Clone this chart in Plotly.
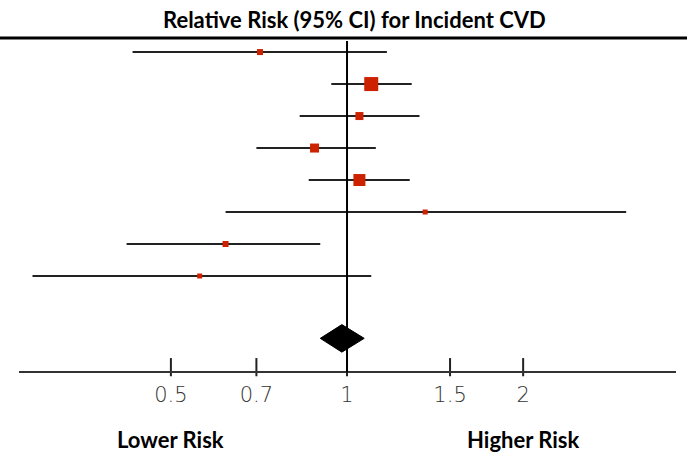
import plotly.graph_objects as go
import math

# Study-level relative risks with 95% confidence limits (top to bottom)
study_rr = [0.71, 1.10, 1.05, 0.88, 1.05, 1.36, 0.62, 0.56]
study_lo = [0.43, 0.94, 0.83, 0.70, 0.86, 0.62, 0.42, 0.29]
study_hi = [1.17, 1.29, 1.33, 1.12, 1.28, 3.00, 0.90, 1.10]

# Pooled estimate
pooled_rr = 0.98
pooled_lo = 0.90
pooled_hi = 1.07

tick_vals = [0.5, 0.7, 1, 1.5, 2]
tick_text = ["0.5", "0.7", "1", "1.5", "2"]

title_text = "Relative Risk (95% CI) for Incident CVD"
left_label = "Lower Risk"
right_label = "Higher Risk"

# styling
box_px = [6, 14, 8, 9, 12, 5, 6, 5]          # square size ~ study weight
pooled_row = 8.95
diamond_half = 0.43
RED = "#CC2200"
INK = "#222222"
Y_BOTTOM, Y_TOP = 9.97, -0.44                # y range (rows run downward)

rows = list(range(len(study_rr)))

fig = go.Figure()

# confidence interval segments
ci_x, ci_y = [], []
for r, lo, hi in zip(rows, study_lo, study_hi):
    ci_x += [lo, hi, None]
    ci_y += [r, r, None]
fig.add_trace(go.Scatter(x=ci_x, y=ci_y, mode="lines",
                         line=dict(color=INK, width=2),
                         hoverinfo="skip", showlegend=False))

# point estimates
fig.add_trace(go.Scatter(x=study_rr, y=rows, mode="markers",
                         marker=dict(symbol="square", size=box_px, color=RED,
                                     opacity=1, line=dict(width=0)),
                         showlegend=False))

# pooled diamond
fig.add_trace(go.Scatter(
    x=[pooled_lo, pooled_rr, pooled_hi, pooled_rr, pooled_lo],
    y=[pooled_row, pooled_row - diamond_half, pooled_row,
       pooled_row + diamond_half, pooled_row],
    mode="lines", fill="toself", fillcolor="black",
    line=dict(color="black", width=1), showlegend=False))

# tick marks on the axis line, drawn as vertical-bar markers
fig.add_trace(go.Scatter(x=tick_vals, y=[Y_BOTTOM - 0.12] * len(tick_vals),
                         mode="markers", cliponaxis=False,
                         marker=dict(symbol="line-ns", size=13,
                                     line=dict(color=INK, width=2)),
                         hoverinfo="skip", showlegend=False))

L, R, T, B = 19, 11, 38, 82
W, H = 687, 453
plot_h = H - T - B

fig.update_layout(
    width=W, height=H,
    margin=dict(l=L, r=R, t=T, b=B),
    paper_bgcolor="white", plot_bgcolor="white",
    xaxis=dict(type="log",
               range=[math.log10(0.275), math.log10(3.65)],
               tickvals=tick_vals, ticktext=tick_text,
               ticks="", ticklabelstandoff=4,
               showline=True, linecolor="#333333", linewidth=2,
               showgrid=False, zeroline=False,
               tickfont=dict(family="DejaVu Sans", size=21, color="#333333",
                             weight=300)),
    yaxis=dict(range=[Y_BOTTOM, Y_TOP], visible=False,
               showgrid=False, zeroline=False),
    shapes=[
        # reference line at RR = 1
        dict(type="line", xref="x", yref="paper", x0=1, x1=1,
             y0=-0.004, y1=(plot_h - 3) / plot_h,
             line=dict(color="black", width=2)),
        # header rule
        dict(type="line", xref="paper", yref="paper",
             x0=-L / (W - L - R), x1=1 + R / (W - L - R), y0=1, y1=1,
             line=dict(color="black", width=3)),
    ],
    annotations=[
        dict(text="<b>" + title_text + "</b>", xref="paper", yref="paper",
             x=0.51, y=1 + 19 / plot_h, xanchor="center", yanchor="middle",
             showarrow=False,
             font=dict(family="Lato", size=22, color="black")),
        dict(text="<b>" + left_label + "</b>", xref="x", yref="paper",
             x=math.log10(0.5), y=-68 / plot_h, xanchor="center",
             yanchor="middle", showarrow=False,
             font=dict(family="Lato", size=22, color="black")),
        dict(text="<b>" + right_label + "</b>", xref="x", yref="paper",
             x=math.log10(2), y=-68 / plot_h, xanchor="center",
             yanchor="middle", showarrow=False,
             font=dict(family="Lato", size=22, color="black")),
    ],
)

fig.write_html("out.html")
